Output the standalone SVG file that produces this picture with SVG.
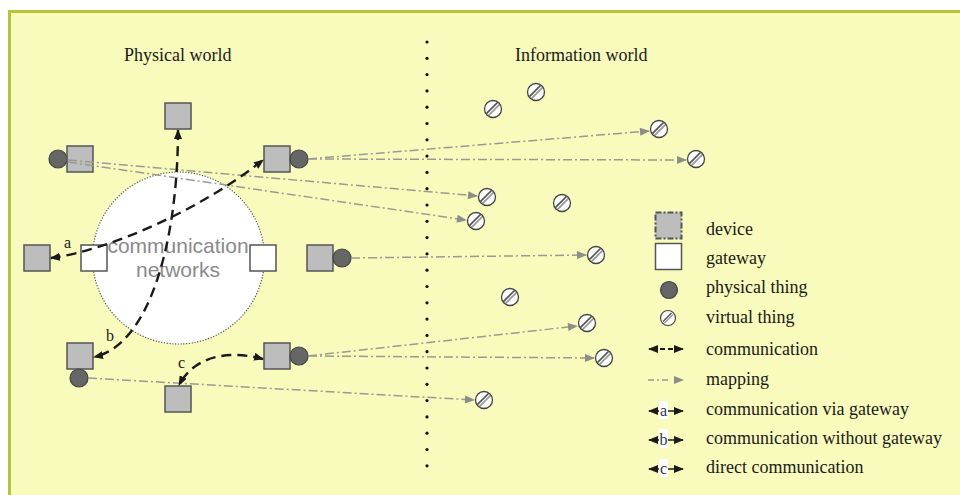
<svg xmlns="http://www.w3.org/2000/svg" xmlns:xlink="http://www.w3.org/1999/xlink" width="960" height="495" viewBox="0 0 960 495">
<style>
.dev{fill:#bdbdbd;stroke:#555;stroke-width:1.5}
.gw{fill:#fff;stroke:#555;stroke-width:1.5}
.pt{fill:#666;stroke:#444;stroke-width:1.2}
.com{fill:none;stroke:#1a1a1a;stroke-width:2.4;stroke-dasharray:10,6}
.map{fill:none;stroke:#9a9a92;stroke-width:1.5;stroke-dasharray:9,3,2,3}
.t{font-family:"Liberation Serif","Times New Roman",serif;font-size:18px;fill:#1a1a1a}
.lbl{font-family:"Liberation Serif","Times New Roman",serif;font-size:16px;fill:#1a1a1a}
.ll{font-family:"Liberation Serif","Times New Roman",serif;font-size:16px;fill:#2a3560}
.net{font-family:"Liberation Sans",Arial,sans-serif;font-size:21px;fill:#8a8a8a}
</style>
<defs>
<marker id="ah" viewBox="0 0 10 8" refX="9" refY="4" markerWidth="10" markerHeight="8" markerUnits="userSpaceOnUse" orient="auto-start-reverse"><path d="M0,0 L10,4 L0,8 z" fill="#1a1a1a"/></marker>
<marker id="mh" viewBox="0 0 10 8" refX="9" refY="4" markerWidth="11" markerHeight="8" markerUnits="userSpaceOnUse" orient="auto"><path d="M0,0 L10,4 L0,8 z" fill="#8e8e88"/></marker>
<clipPath id="vc"><circle r="8"/></clipPath>
<g id="vt">
<circle r="8.5" fill="#fff"/>
<g clip-path="url(#vc)">
<line x1="-9" y1="7" x2="7" y2="-9" stroke="#555" stroke-width="1.6"/>
<line x1="-7" y1="9" x2="9" y2="-7" stroke="#9a9a9a" stroke-width="1.8"/>
</g>
<circle r="8.5" fill="none" stroke="#444" stroke-width="1.3"/>
</g>
<g id="vts">
<circle r="7.5" fill="#fff"/>
<line x1="-5" y1="3.5" x2="3.5" y2="-5" stroke="#555" stroke-width="1.4"/>
<line x1="-3.5" y1="5" x2="5" y2="-3.5" stroke="#9a9a9a" stroke-width="1.6"/>
<circle r="7.5" fill="none" stroke="#444" stroke-width="1.2"/>
</g>
</defs>
<rect x="0" y="0" width="960" height="495" fill="#fff"/>
<rect id="frame" x="9.5" y="11.5" width="960" height="500" fill="#f8fbbb" stroke="#b3c53a" stroke-width="3"/>

<text class="t" x="124" y="61">Physical world</text>
<text class="t" x="515" y="61">Information world</text>

<g id="divider" fill="#111">
<circle cx="427" cy="42" r="1.6"/><circle cx="427" cy="58.3" r="1.6"/><circle cx="427" cy="74.6" r="1.6"/><circle cx="427" cy="90.9" r="1.6"/><circle cx="427" cy="107.2" r="1.6"/><circle cx="427" cy="123.5" r="1.6"/><circle cx="427" cy="139.8" r="1.6"/><circle cx="427" cy="156.1" r="1.6"/><circle cx="427" cy="172.4" r="1.6"/><circle cx="427" cy="188.7" r="1.6"/><circle cx="427" cy="205" r="1.6"/><circle cx="427" cy="221.3" r="1.6"/><circle cx="427" cy="237.6" r="1.6"/><circle cx="427" cy="253.9" r="1.6"/><circle cx="427" cy="270.2" r="1.6"/><circle cx="427" cy="286.5" r="1.6"/><circle cx="427" cy="302.8" r="1.6"/><circle cx="427" cy="319.1" r="1.6"/><circle cx="427" cy="335.4" r="1.6"/><circle cx="427" cy="351.7" r="1.6"/><circle cx="427" cy="368" r="1.6"/><circle cx="427" cy="384.3" r="1.6"/><circle cx="427" cy="400.6" r="1.6"/><circle cx="427" cy="416.9" r="1.6"/><circle cx="427" cy="433.2" r="1.6"/><circle cx="427" cy="449.5" r="1.6"/><circle cx="427" cy="465.8" r="1.6"/>
</g>

<g id="network">
<circle cx="178.5" cy="258" r="86" fill="#fff" stroke="#555" stroke-width="1.2" stroke-dasharray="1.2,1.6"/>
</g>
<g id="gateway-left"><rect class="gw" x="81" y="245" width="26" height="26"/></g>
<g id="gateway-right"><rect class="gw" x="250" y="245" width="26" height="26"/></g>
<g id="network-label">
<text class="net" x="178" y="253" text-anchor="middle">communication</text>
<text class="net" x="178" y="277" text-anchor="middle">networks</text>
</g>

<g id="device-top"><rect class="dev" x="165" y="103" width="26" height="26"/></g>
<g id="device-ul"><circle class="pt" cx="58" cy="159" r="9"/><rect class="dev" x="67" y="146" width="26" height="26"/></g>
<g id="device-ur"><rect class="dev" x="264" y="146" width="26" height="26"/><circle class="pt" cx="299" cy="159" r="9"/></g>
<g id="device-a"><rect class="dev" x="24" y="245" width="26" height="26"/></g>
<g id="device-mid"><rect class="dev" x="307" y="245" width="26" height="26"/><circle class="pt" cx="342" cy="258" r="9"/></g>
<g id="device-ll"><rect class="dev" x="67" y="343" width="26" height="26"/><circle class="pt" cx="79" cy="378" r="9"/></g>
<g id="device-lr"><rect class="dev" x="264" y="343" width="26" height="26"/><circle class="pt" cx="299" cy="356" r="9"/></g>
<g id="device-c"><rect class="dev" x="165" y="386" width="26" height="26"/></g>

<g id="vt1"><use xlink:href="#vt" x="536" y="92"/></g>
<g id="vt2"><use xlink:href="#vt" x="493" y="109"/></g>
<g id="vt3"><use xlink:href="#vt" x="659" y="129"/></g>
<g id="vt4"><use xlink:href="#vt" x="696" y="159"/></g>
<g id="vt5"><use xlink:href="#vt" x="487" y="197"/></g>
<g id="vt6"><use xlink:href="#vt" x="562" y="203"/></g>
<g id="vt7"><use xlink:href="#vt" x="476" y="221"/></g>
<g id="vt8"><use xlink:href="#vt" x="596" y="255"/></g>
<g id="vt9"><use xlink:href="#vt" x="510" y="297"/></g>
<g id="vt10"><use xlink:href="#vt" x="587" y="323"/></g>
<g id="vt11"><use xlink:href="#vt" x="604" y="358"/></g>
<g id="vt12"><use xlink:href="#vt" x="484" y="400"/></g>

<g id="connectors">
<path class="map" d="M68,160 L477,196" marker-end="url(#mh)"/>
<path class="map" d="M68,162 L466,220" marker-end="url(#mh)"/>
<path class="map" d="M308,159 L649,131" marker-end="url(#mh)"/>
<path class="map" d="M308,159 L686,160" marker-end="url(#mh)"/>
<path class="map" d="M351,258 L586,255" marker-end="url(#mh)"/>
<path class="map" d="M308,356 L577,326" marker-end="url(#mh)"/>
<path class="map" d="M308,356 L594,358" marker-end="url(#mh)"/>
<path class="map" d="M88,378 L474,400" marker-end="url(#mh)"/>

<path class="com" d="M51,258 C110,250 200,210 263,160" marker-start="url(#ah)" marker-end="url(#ah)"/>
<path class="com" d="M178,130 C178,240 150,345 94,357" marker-start="url(#ah)" marker-end="url(#ah)"/>
<path class="com" d="M263,359 C230,350 195,355 179,385" marker-start="url(#ah)" marker-end="url(#ah)"/>
<text class="lbl" x="64" y="248">a</text>
<text class="lbl" x="106" y="341">b</text>
<text class="lbl" x="178" y="368">c</text>
</g>

<g id="legend">
<rect x="655.5" y="212.5" width="26" height="26" fill="#bdbdbd" stroke="#555" stroke-width="2" stroke-dasharray="6,2,2,2"/>
<text class="t" x="706" y="235">device</text>
<rect class="gw" x="655.5" y="243.5" width="26" height="26"/>
<text class="t" x="706" y="264">gateway</text>
<circle class="pt" cx="669" cy="290" r="8.5"/>
<text class="t" x="706" y="293">physical thing</text>
<use xlink:href="#vts" x="668" y="318"/>
<text class="t" x="706" y="323">virtual thing</text>
<path d="M649,349 L658,349" fill="none" stroke="#1a1a1a" stroke-width="1.5" marker-start="url(#ah)"/>
<path d="M674,349 L683,349" fill="none" stroke="#1a1a1a" stroke-width="1.5" marker-end="url(#ah)"/>
<path d="M660,349 L665,349 M668,349 L673,349" fill="none" stroke="#1a1a1a" stroke-width="2"/>
<text class="t" x="706" y="355">communication</text>
<path d="M648,380 L654,380 M657,380 L659,380 M662,380 L668,380" fill="none" stroke="#9a9a92" stroke-width="1.5"/>
<path d="M672,380 L683,380" fill="none" stroke="none" marker-end="url(#mh)"/>
<text class="t" x="706" y="385">mapping</text>
<path d="M649,411 L683,411" fill="none" stroke="#1a1a1a" stroke-width="1.5" marker-start="url(#ah)" marker-end="url(#ah)"/>
<rect x="659" y="401" width="9" height="18" fill="#fff"/>
<text class="ll" x="663.5" y="416" text-anchor="middle">a</text>
<text class="t" x="706" y="415">communication via gateway</text>
<path d="M649,440 L683,440" fill="none" stroke="#1a1a1a" stroke-width="1.5" marker-start="url(#ah)" marker-end="url(#ah)"/>
<rect x="659" y="429" width="9" height="19" fill="#fff"/>
<text class="ll" x="663.5" y="445" text-anchor="middle">b</text>
<text class="t" x="706" y="444">communication without gateway</text>
<path d="M649,469 L683,469" fill="none" stroke="#1a1a1a" stroke-width="1.5" marker-start="url(#ah)" marker-end="url(#ah)"/>
<rect x="659" y="459" width="9" height="18" fill="#fff"/>
<text class="ll" x="663.5" y="474" text-anchor="middle">c</text>
<text class="t" x="706" y="473">direct communication</text>
</g>
</svg>
